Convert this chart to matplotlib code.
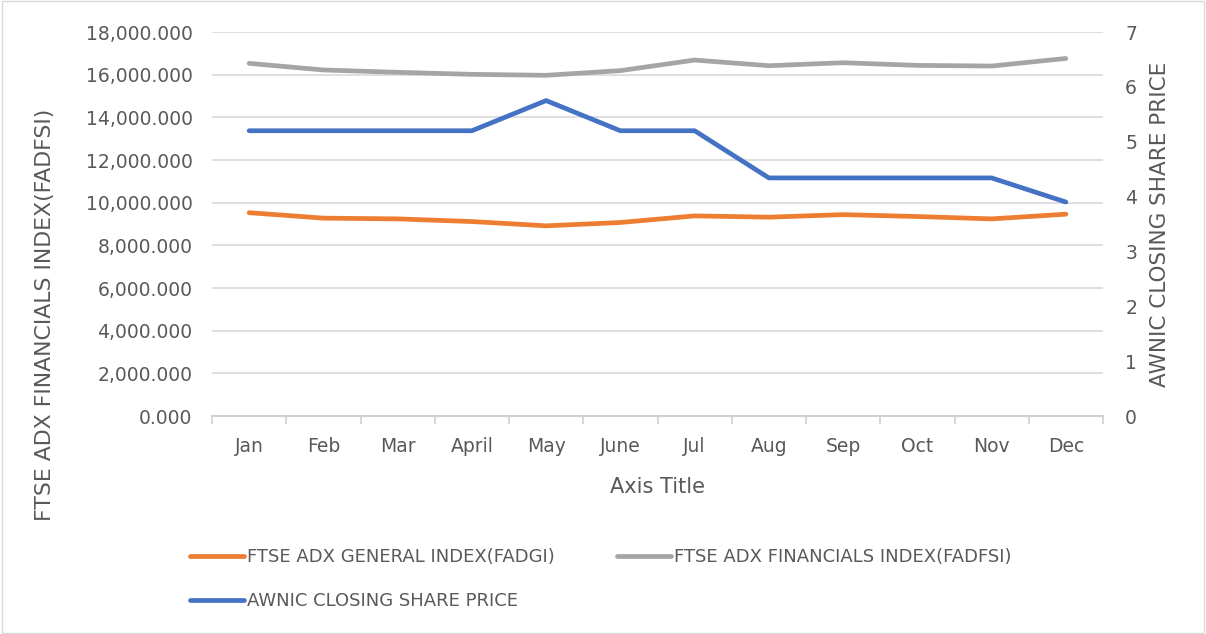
import numpy as np
import matplotlib
matplotlib.use("Agg")
import matplotlib.pyplot as plt
from matplotlib.ticker import FuncFormatter, MultipleLocator, FixedLocator

months = ["Jan", "Feb", "Mar", "April", "May", "June", "Jul", "Aug", "Sep", "Oct", "Nov", "Dec"]
general_index = [9530, 9275, 9240, 9115, 8915, 9070, 9380, 9320, 9440, 9350, 9240, 9460]
financials_index = [16530, 16220, 16110, 16015, 15970, 16190, 16685, 16420, 16560, 16435, 16405, 16760]
awnic_price = [5.2, 5.2, 5.2, 5.2, 5.75, 5.2, 5.2, 4.34, 4.34, 4.34, 4.34, 3.9]

text_col = "#595959"
plt.rcParams["font.family"] = "DejaVu Sans"
fs = 13.5

fig = plt.figure(figsize=(12.06, 6.34), dpi=100)
ax = fig.add_axes([212 / 1206, 1 - 416 / 634, (1103 - 212) / 1206, (416 - 32) / 634])
ax2 = ax.twinx()

x = np.arange(len(months))
l1, = ax.plot(x, general_index, color="#ED7D31", lw=3.4, solid_capstyle="round", solid_joinstyle="round", zorder=3)
l2, = ax.plot(x, financials_index, color="#A5A5A5", lw=3.4, solid_capstyle="round", solid_joinstyle="round", zorder=3)
l3, = ax2.plot(x, awnic_price, color="#4472C4", lw=3.4, solid_capstyle="round", solid_joinstyle="round", zorder=3)

ax.set_xlim(-0.5, 11.5)
ax.set_ylim(0, 18000)
ax2.set_ylim(0, 7)
ax.yaxis.set_major_locator(MultipleLocator(2000))
ax.yaxis.set_major_formatter(FuncFormatter(lambda v, p: f"{v:,.3f}"))
ax2.yaxis.set_major_locator(MultipleLocator(1))

ax.set_xticks(x)
ax.set_xticklabels(months)
ax.xaxis.set_minor_locator(FixedLocator(np.arange(-0.5, 12, 1)))
ax.tick_params(axis="x", which="major", length=0, pad=15, labelsize=fs, labelcolor=text_col)
ax.tick_params(axis="x", which="minor", length=5.5, color="#D0D0D0", width=1.2)
ax.tick_params(axis="y", length=0, pad=14, labelsize=fs, labelcolor=text_col)
ax2.tick_params(axis="y", length=0, pad=16, labelsize=fs, labelcolor=text_col)

ax.grid(axis="y", color="#D9D9D9", lw=1.2)
ax.set_axisbelow(True)
for a in (ax, ax2):
    for s in ("top", "right", "left"):
        a.spines[s].set_visible(False)
    a.spines["bottom"].set_color("#D0D0D0")
    a.spines["bottom"].set_linewidth(1.2)

ax.set_xlabel("Axis Title", fontsize=15, color=text_col, labelpad=15)
ax2.set_ylabel("AWNIC CLOSING SHARE PRICE", fontsize=15.5, color=text_col, labelpad=9)
fig.text(45 / 1206, 1 - 315 / 634, "FTSE ADX FINANCIALS INDEX(FADFSI)", rotation=90,
         ha="center", va="center", fontsize=15.8, color=text_col)

leg = fig.legend([l1, l3, l2],
                 ["FTSE ADX GENERAL INDEX(FADGI)", "AWNIC CLOSING SHARE PRICE",
                  "FTSE ADX FINANCIALS INDEX(FADFSI)"],
                 ncol=2, loc="upper left", bbox_to_anchor=(174 / 1206, 1 - 532 / 634),
                 frameon=False, fontsize=13, handlelength=3.0, handletextpad=0.17,
                 columnspacing=3.4, labelspacing=1.42, labelcolor=text_col)

fig.add_artist(plt.Rectangle((0.002, 0.002), 0.996, 0.996, transform=fig.transFigure,
                             fill=False, ec="#D9D9D9", lw=1))

fig.savefig("out.png", dpi=100)
